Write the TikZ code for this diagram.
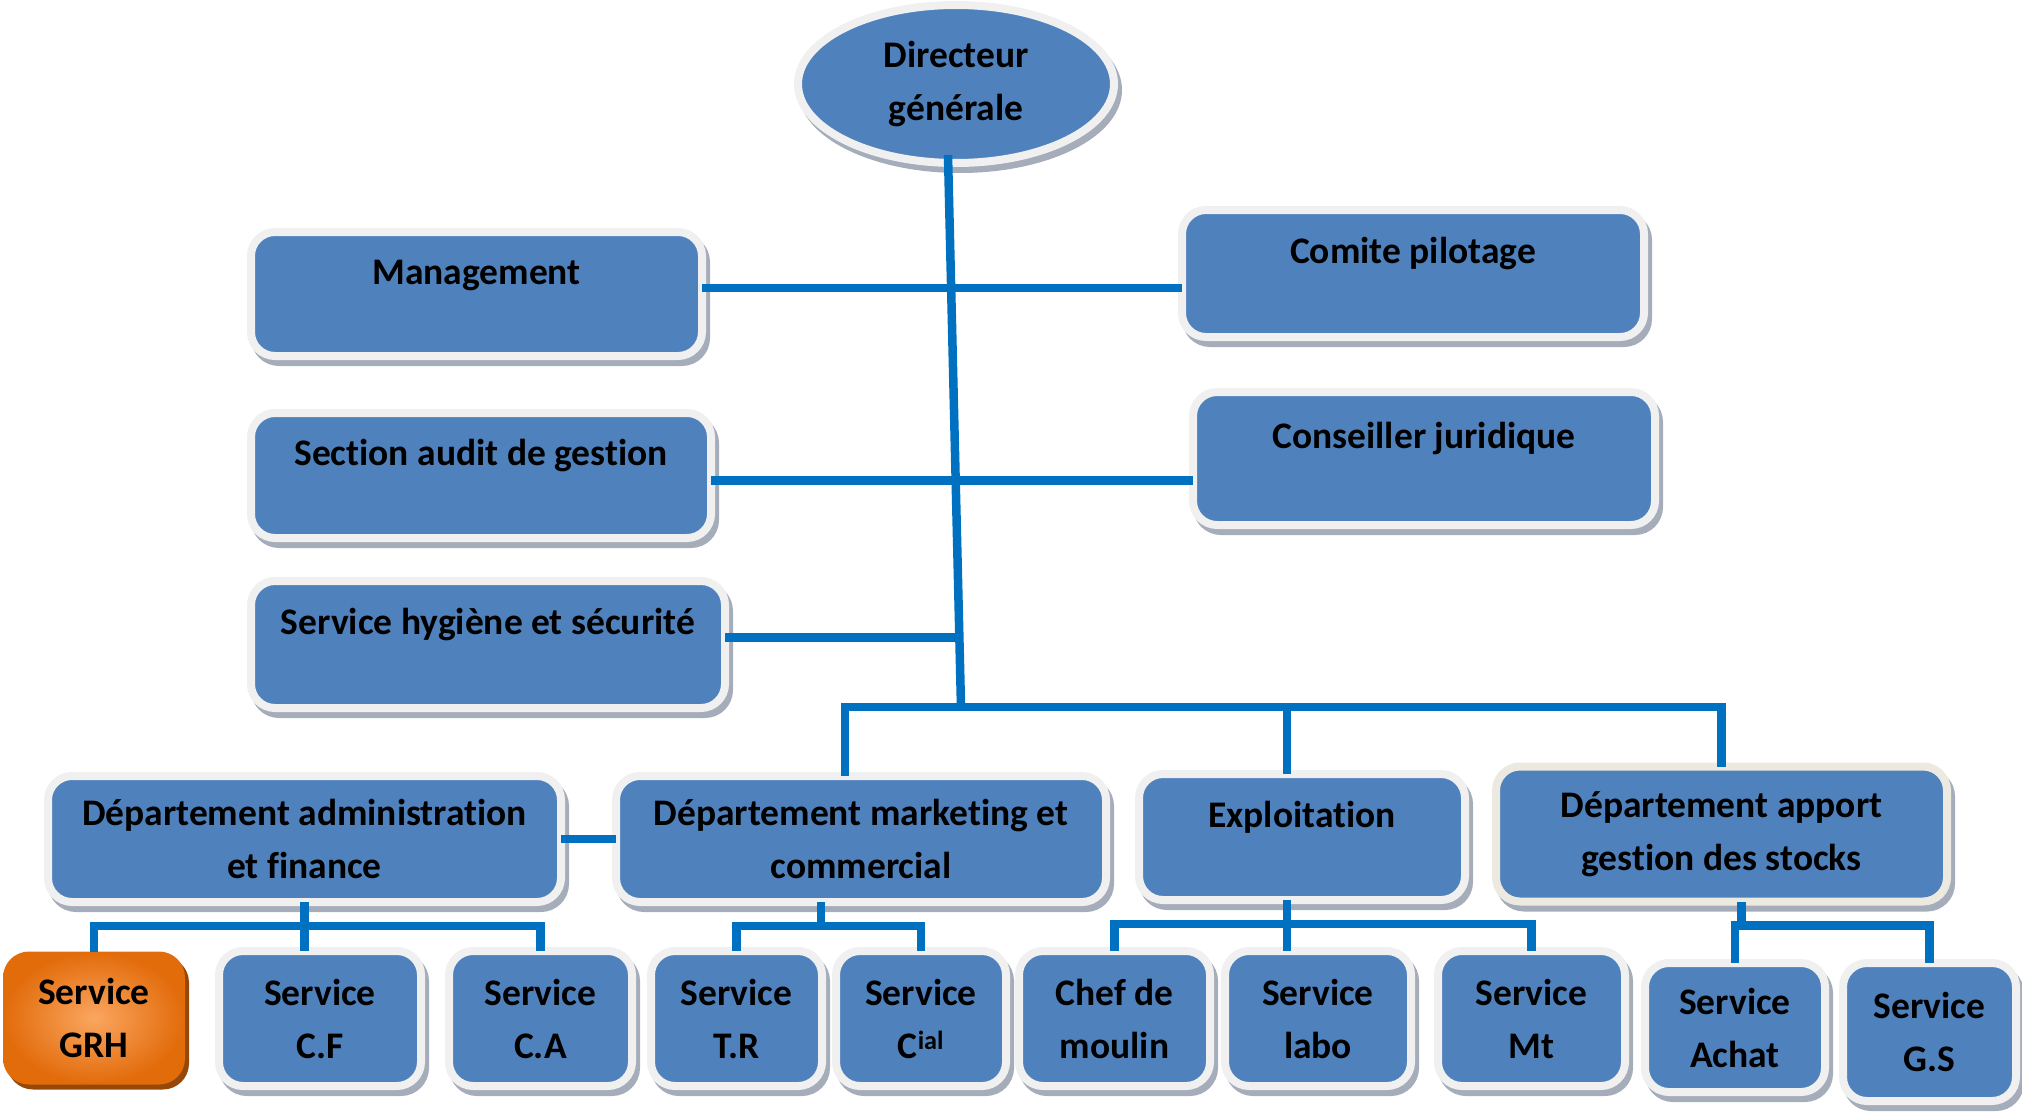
\documentclass[tikz,border=0pt]{standalone}
\usepackage{fontspec}
\setmainfont[Ligatures=NoCommon]{Carlito}
\usepackage{tikz}
\usetikzlibrary{%
        shapes.geometric,
        shadows
    }
\definecolor{boxblue}{RGB}{79, 129, 189}
\definecolor{rimgray}{RGB}{240, 240, 240}
\definecolor{rimbeige}{RGB}{236, 234, 224}
\definecolor{linkblue}{RGB}{0, 112, 192}
\definecolor{shadowgray}{RGB}{165, 172, 186}
\definecolor{grhlight}{RGB}{250, 166, 96}
\definecolor{grhdark}{RGB}{226, 107, 10}
\definecolor{grhshadow}{RGB}{150, 72, 8}
\tikzset{%
    orgbox/.style={draw=rimgray, line width=8pt, fill=boxblue,
        rounded corners=24pt, outer sep=0pt, inner sep=0pt, align=center,
        font=\fontsize{37.5}{53}\selectfont\bfseries,
        drop shadow={shadow xshift=4pt, shadow yshift=-6pt, opacity=1,
            fill=shadowgray, draw=shadowgray, line width=8pt}},
    toptext/.style={text height=28pt, text depth=48pt},
    grhbox/.style={draw=none, shading=radial, inner color=grhlight,
        outer color=grhdark, rounded corners=26pt, outer sep=0pt,
        inner sep=0pt, align=center, font=\fontsize{37.5}{53}\selectfont\bfseries,
        drop shadow={shadow xshift=4pt, shadow yshift=-5pt, opacity=1,
            fill=grhshadow}},
    link/.style={draw=linkblue, line width=8.5pt}
}

\begin{document}
\begin{tikzpicture}[x=1pt, y=-1pt]

    \useasboundingbox (0, 0) rectangle (2022, 1113);

    \node[orgbox, ellipse, minimum width=316pt, minimum height=158pt]
        (dg) at (956, 84) {Directeur\\générale};

    \node[orgbox, toptext, minimum width=451pt, minimum height=124pt]
        (mgmt) at (476.5, 294) {Management};
    \node[orgbox, toptext, minimum width=462pt, minimum height=127pt]
        (cp) at (1413, 273.5) {Comite pilotage};
    \node[orgbox, toptext, minimum width=460pt, minimum height=125pt]
        (audit) at (481, 475.5) {Section audit de gestion};
    \node[orgbox, toptext, minimum width=462pt, minimum height=133pt]
        (cj) at (1424, 458.5) {Conseiller juridique};
    \node[orgbox, toptext, minimum width=474pt, minimum height=127pt]
        (hyg) at (488, 644.5) {Service hygiène et sécurité};

    \node[orgbox, minimum width=513pt, minimum height=126pt]
        (admin) at (304.5, 839) {Département administration\\et finance};
    \node[orgbox, minimum width=490pt, minimum height=126pt]
        (mk) at (861, 839) {Département marketing et\\commercial};
    \node[orgbox, toptext, minimum width=326pt, minimum height=126pt]
        (ex) at (1302, 837) {Exploitation};
    \node[orgbox, draw=rimbeige, minimum width=451pt, minimum height=135pt]
        (ap) at (1721.5, 834) {Département apport\\gestion des stocks};

    \node[grhbox, minimum width=182pt, minimum height=133pt]
        (grh) at (94, 1018) {Service\\GRH};
    \node[orgbox, minimum width=202pt, minimum height=135pt]
        (cf) at (320, 1018.5) {Service\\C.F};
    \node[orgbox, minimum width=183pt, minimum height=135pt]
        (ca) at (540.5, 1018.5) {Service\\C.A};
    \node[orgbox, minimum width=171pt, minimum height=135pt]
        (tr) at (736.5, 1018.5) {Service\\T.R};
    \node[orgbox, minimum width=170pt, minimum height=135pt]
        (cial) at (921, 1018.5) {Service\\C\textsuperscript{ial}};
    \node[orgbox, minimum width=191pt, minimum height=135pt]
        (cm) at (1114.5, 1018.5) {Chef de\\moulin};
    \node[orgbox, minimum width=186pt, minimum height=135pt]
        (labo) at (1318, 1018.5) {Service\\labo};
    \node[orgbox, minimum width=187pt, minimum height=135pt]
        (mt) at (1531.5, 1018.5) {Service\\Mt};
    \node[orgbox, minimum width=180pt, minimum height=129pt]
        (achat) at (1735, 1027.5) {Service\\Achat};
    \node[orgbox, minimum width=173pt, minimum height=138pt]
        (gs) at (1929.5, 1032) {Service\\G.S};

    \coordinate (bus) at (961, 707);
    \draw[link] ([xshift=-8pt, yshift=8pt]dg.south) -- (bus);
    \draw[link] ([yshift=6pt]mgmt.east) -- ([yshift=6pt]mgmt.east -| cp.west);
    \draw[link] ([yshift=-5pt]audit.east) -- ([yshift=-5pt]audit.east -| cj.west);
    \draw[link] ([yshift=7pt]hyg.east) -- ([yshift=7pt]hyg.east -| bus);

    \draw[link] ([xshift=-16pt]mk.north) |- (bus) -| (ap.north);
    \draw[link] ([xshift=-15pt]ex.north) -- ([xshift=-15pt]ex.north |- bus);
    \draw[link] (admin.east) -- (mk.west);

    \draw[link] (admin.south) -- (admin.south |- cf.north);
    \draw[link] (admin.south) -- ++(0, 24) coordinate (adbus);
    \draw[link] (grh.north) |- (adbus) -| (ca.north);

    \draw[link] ([xshift=-40pt]mk.south) -- ++(0, 24) coordinate (mkbus);
    \draw[link] (tr.north) |- (mkbus) -| (cial.north);

    \draw[link] ([xshift=-15pt]ex.south) -- ([xshift=-15pt]ex.south |- labo.north);
    \draw[link] ([xshift=-15pt]ex.south) -- ++(0, 24) coordinate (exbus);
    \draw[link] (cm.north) |- (exbus) -| (mt.north);

    \draw[link] ([xshift=20pt]ap.south) -- ++(0, 24) coordinate (apbus);
    \draw[link] (achat.north) |- (apbus) -| (gs.north);

\end{tikzpicture}
\end{document}
